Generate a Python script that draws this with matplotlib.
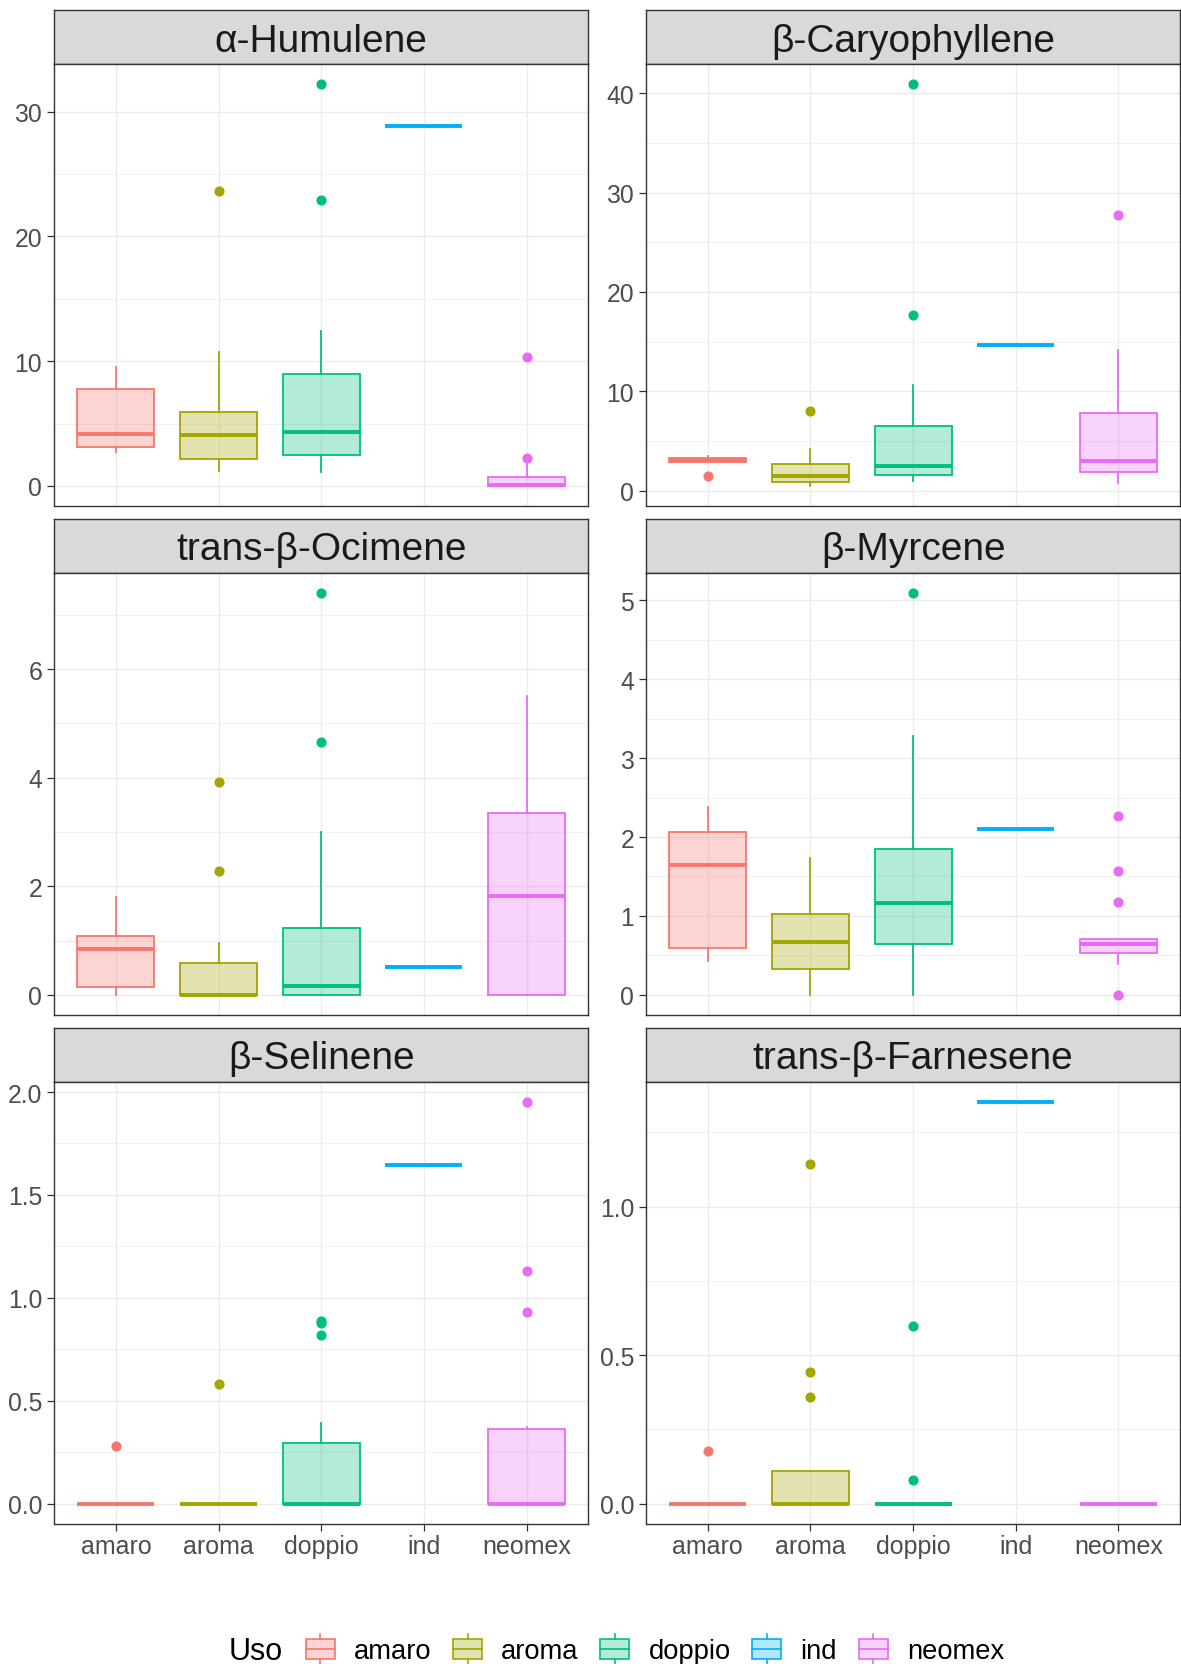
import numpy as np
import matplotlib
matplotlib.use("Agg")
import matplotlib.pyplot as plt
from matplotlib.colors import to_rgba
from matplotlib.patches import Patch, Rectangle
from matplotlib.lines import Line2D
from matplotlib.legend_handler import HandlerBase
from matplotlib.ticker import MultipleLocator, FormatStrFormatter

plt.rcParams["font.family"] = ["Liberation Sans", "DejaVu Sans"]

# categories and facets
uso = ["amaro", "aroma", "doppio", "ind", "neomex"]
compounds = ["α-Humulene", "β-Caryophyllene", "trans-β-Ocimene",
             "β-Myrcene", "β-Selinene", "trans-β-Farnesene"]
colors = ["#F8766D", "#A3A500", "#00BF7D", "#00B0F6", "#E76BF3"]

# box statistics per uso: [whisker low, q1, median, q3, whisker high]
humulene_box = [
    [2.73, 3.13, 4.15, 7.77, 9.51],
    [1.16, 2.14, 4.10, 5.90, 10.76],
    [1.12, 2.44, 4.34, 9.00, 12.40],
    [28.87, 28.87, 28.87, 28.87, 28.87],
    [0.0, 0.0, 0.10, 0.75, 1.74],
]
humulene_out = [[], [23.6], [32.2, 22.9], [], [10.3, 2.22]]

caryophyllene_box = [
    [2.90, 2.90, 3.10, 3.30, 3.55],
    [0.50, 0.94, 1.50, 2.75, 4.26],
    [1.00, 1.58, 2.52, 6.51, 10.67],
    [14.70, 14.70, 14.70, 14.70, 14.70],
    [0.84, 1.91, 3.02, 7.82, 14.20],
]
caryophyllene_out = [[1.51], [8.02], [40.9, 17.7], [], [27.75]]

ocimene_box = [
    [0.0, 0.14, 0.84, 1.08, 1.81],
    [0.0, 0.0, 0.0, 0.58, 0.95],
    [0.0, 0.0, 0.16, 1.24, 3.00],
    [0.52, 0.52, 0.52, 0.52, 0.52],
    [0.0, 0.0, 1.82, 3.35, 5.50],
]
ocimene_out = [[], [3.93, 2.28], [7.40, 4.65], [], []]

myrcene_box = [
    [0.43, 0.59, 1.64, 2.06, 2.38],
    [0.0, 0.33, 0.67, 1.03, 1.73],
    [0.0, 0.65, 1.16, 1.85, 3.28],
    [2.10, 2.10, 2.10, 2.10, 2.10],
    [0.39, 0.53, 0.65, 0.71, 0.71],
]
myrcene_out = [[], [], [5.09], [], [2.27, 1.57, 1.18, 0.0]]

selinene_box = [
    [0.0, 0.0, 0.0, 0.0, 0.0],
    [0.0, 0.0, 0.0, 0.0, 0.0],
    [0.0, 0.0, 0.0, 0.295, 0.39],
    [1.646, 1.646, 1.646, 1.646, 1.646],
    [0.0, 0.0, 0.0, 0.362, 0.374],
]
selinene_out = [[0.278], [0.58], [0.885, 0.875, 0.82], [], [1.953, 1.13, 0.932]]

farnesene_box = [
    [0.0, 0.0, 0.0, 0.0, 0.0],
    [0.0, 0.0, 0.0, 0.111, 0.111],
    [0.0, 0.0, 0.0, 0.0, 0.0],
    [1.353, 1.353, 1.353, 1.353, 1.353],
    [0.0, 0.0, 0.0, 0.0, 0.0],
]
farnesene_out = [[0.176], [1.143, 0.444, 0.358], [0.599, 0.079], [], []]

y_steps = [10, 10, 2, 1, 0.5, 0.5]

all_box = [humulene_box, caryophyllene_box, ocimene_box,
           myrcene_box, selinene_box, farnesene_box]
all_out = [humulene_out, caryophyllene_out, ocimene_out,
           myrcene_out, selinene_out, farnesene_out]

W, H = 1181, 1665
fig = plt.figure(figsize=(W / 100, H / 100), dpi=100)

col_left = [54.3, 646.2]
row_top = [11, 520, 1028.6]
panel_w, panel_h, strip_h = 533.9, 442, 54

border = "#333333"
grid_c = "#EBEBEB"


def px_axes(left, top, w, h):
    return fig.add_axes([left / W, 1 - (top + h) / H, w / W, h / H])


for i, name in enumerate(compounds):
    r, c = divmod(i, 2)
    left = col_left[c]
    top = row_top[r]

    # facet strip
    sax = px_axes(left, top, panel_w, strip_h)
    sax.set_facecolor("#D9D9D9")
    sax.set_xticks([])
    sax.set_yticks([])
    for sp in sax.spines.values():
        sp.set_color(border)
        sp.set_linewidth(1.0)
    sax.text(0.5, 0.25, name, ha="center", va="baseline",
             fontsize=28, color="#1A1A1A", transform=sax.transAxes)

    ax = px_axes(left, top + strip_h, panel_w, panel_h)
    boxes = all_box[i]
    outs = all_out[i]
    for j, (st, fl) in enumerate(zip(boxes, outs)):
        col = colors[j]
        stats = [dict(whislo=st[0], q1=st[1], med=st[2], q3=st[3],
                      whishi=st[4], fliers=np.array(fl))]
        ax.bxp(stats, positions=[j + 1], widths=0.75, patch_artist=True,
               showcaps=False, manage_ticks=False,
               boxprops=dict(facecolor=to_rgba(col, 0.3), edgecolor=col,
                             linewidth=1.3),
               medianprops=dict(color=col, linewidth=2.8,
                                solid_capstyle="butt"),
               whiskerprops=dict(color=col, linewidth=1.3),
               flierprops=dict(marker="o", markerfacecolor=col,
                               markeredgecolor=col, markersize=6.3,
                               linestyle="none"))

    # y range with 5% padding like the data extent
    vals = [v for st in boxes for v in st] + [v for fl in outs for v in fl]
    lo, hi = min(vals), max(vals)
    pad = 0.05 * (hi - lo)
    ax.set_ylim(lo - pad, hi + pad)
    ax.set_xlim(0.4, 5.6)

    step = y_steps[i]
    ax.yaxis.set_major_locator(MultipleLocator(step))
    ax.yaxis.set_minor_locator(MultipleLocator(step / 2))
    if step < 1:
        ax.yaxis.set_major_formatter(FormatStrFormatter("%.1f"))
    else:
        ax.yaxis.set_major_formatter(FormatStrFormatter("%g"))

    ax.set_xticks(range(1, 6))
    ax.grid(which="major", color=grid_c, linewidth=1.0)
    ax.grid(which="minor", axis="y", color=grid_c, linewidth=0.5)
    ax.set_axisbelow(True)
    for sp in ax.spines.values():
        sp.set_color(border)
        sp.set_linewidth(1.0)
    ax.tick_params(axis="y", which="major", length=4.7, width=0.9,
                   color=border, labelsize=17.8, labelcolor="#4D4D4D", pad=4)
    ax.tick_params(which="minor", length=0)
    if r == 2:
        ax.set_xticklabels(uso)
        ax.tick_params(axis="x", which="major", length=4.7, width=0.9,
                       color=border, labelsize=18, labelcolor="#4D4D4D",
                       pad=3)
    else:
        ax.tick_params(axis="x", which="major", length=0,
                       labelbottom=False)


class BoxKey(HandlerBase):
    # small boxplot glyph used as legend key
    def create_artists(self, legend, orig_handle, xdescent, ydescent,
                       width, height, fontsize, trans):
        edge = orig_handle.get_edgecolor()
        face = orig_handle.get_facecolor()
        x0, y0 = -xdescent, -ydescent
        lw = 1.2
        box = Rectangle((x0, y0 + height / 6), width, height * 2 / 3,
                        facecolor=face, edgecolor=edge, lw=lw,
                        transform=trans)
        mid = Line2D([x0, x0 + width], [y0 + height / 2] * 2, color=edge,
                     lw=lw, transform=trans)
        xm = x0 + width / 2
        top = Line2D([xm, xm], [y0 + height * 5 / 6, y0 + height],
                     color=edge, lw=lw, transform=trans)
        bot = Line2D([xm, xm], [y0, y0 + height / 6], color=edge, lw=lw,
                     transform=trans)
        return [bot, top, box, mid]


handles = [Patch(facecolor=to_rgba(c, 0.3), edgecolor=c) for c in colors]
fig.legend(handles, uso, loc="center", bbox_to_anchor=(655 / W, 1 - 1650 / H),
           ncol=5, frameon=False, fontsize=19.7,
           handler_map={Patch: BoxKey()}, handlelength=1.06,
           handleheight=1.35, handletextpad=0.7, columnspacing=0.79,
           borderpad=0.2)
fig.text(229 / W, 1 - 1660 / H, "Uso", fontsize=22, ha="left",
         va="baseline", color="black")

fig.savefig("out.png", dpi=100)
